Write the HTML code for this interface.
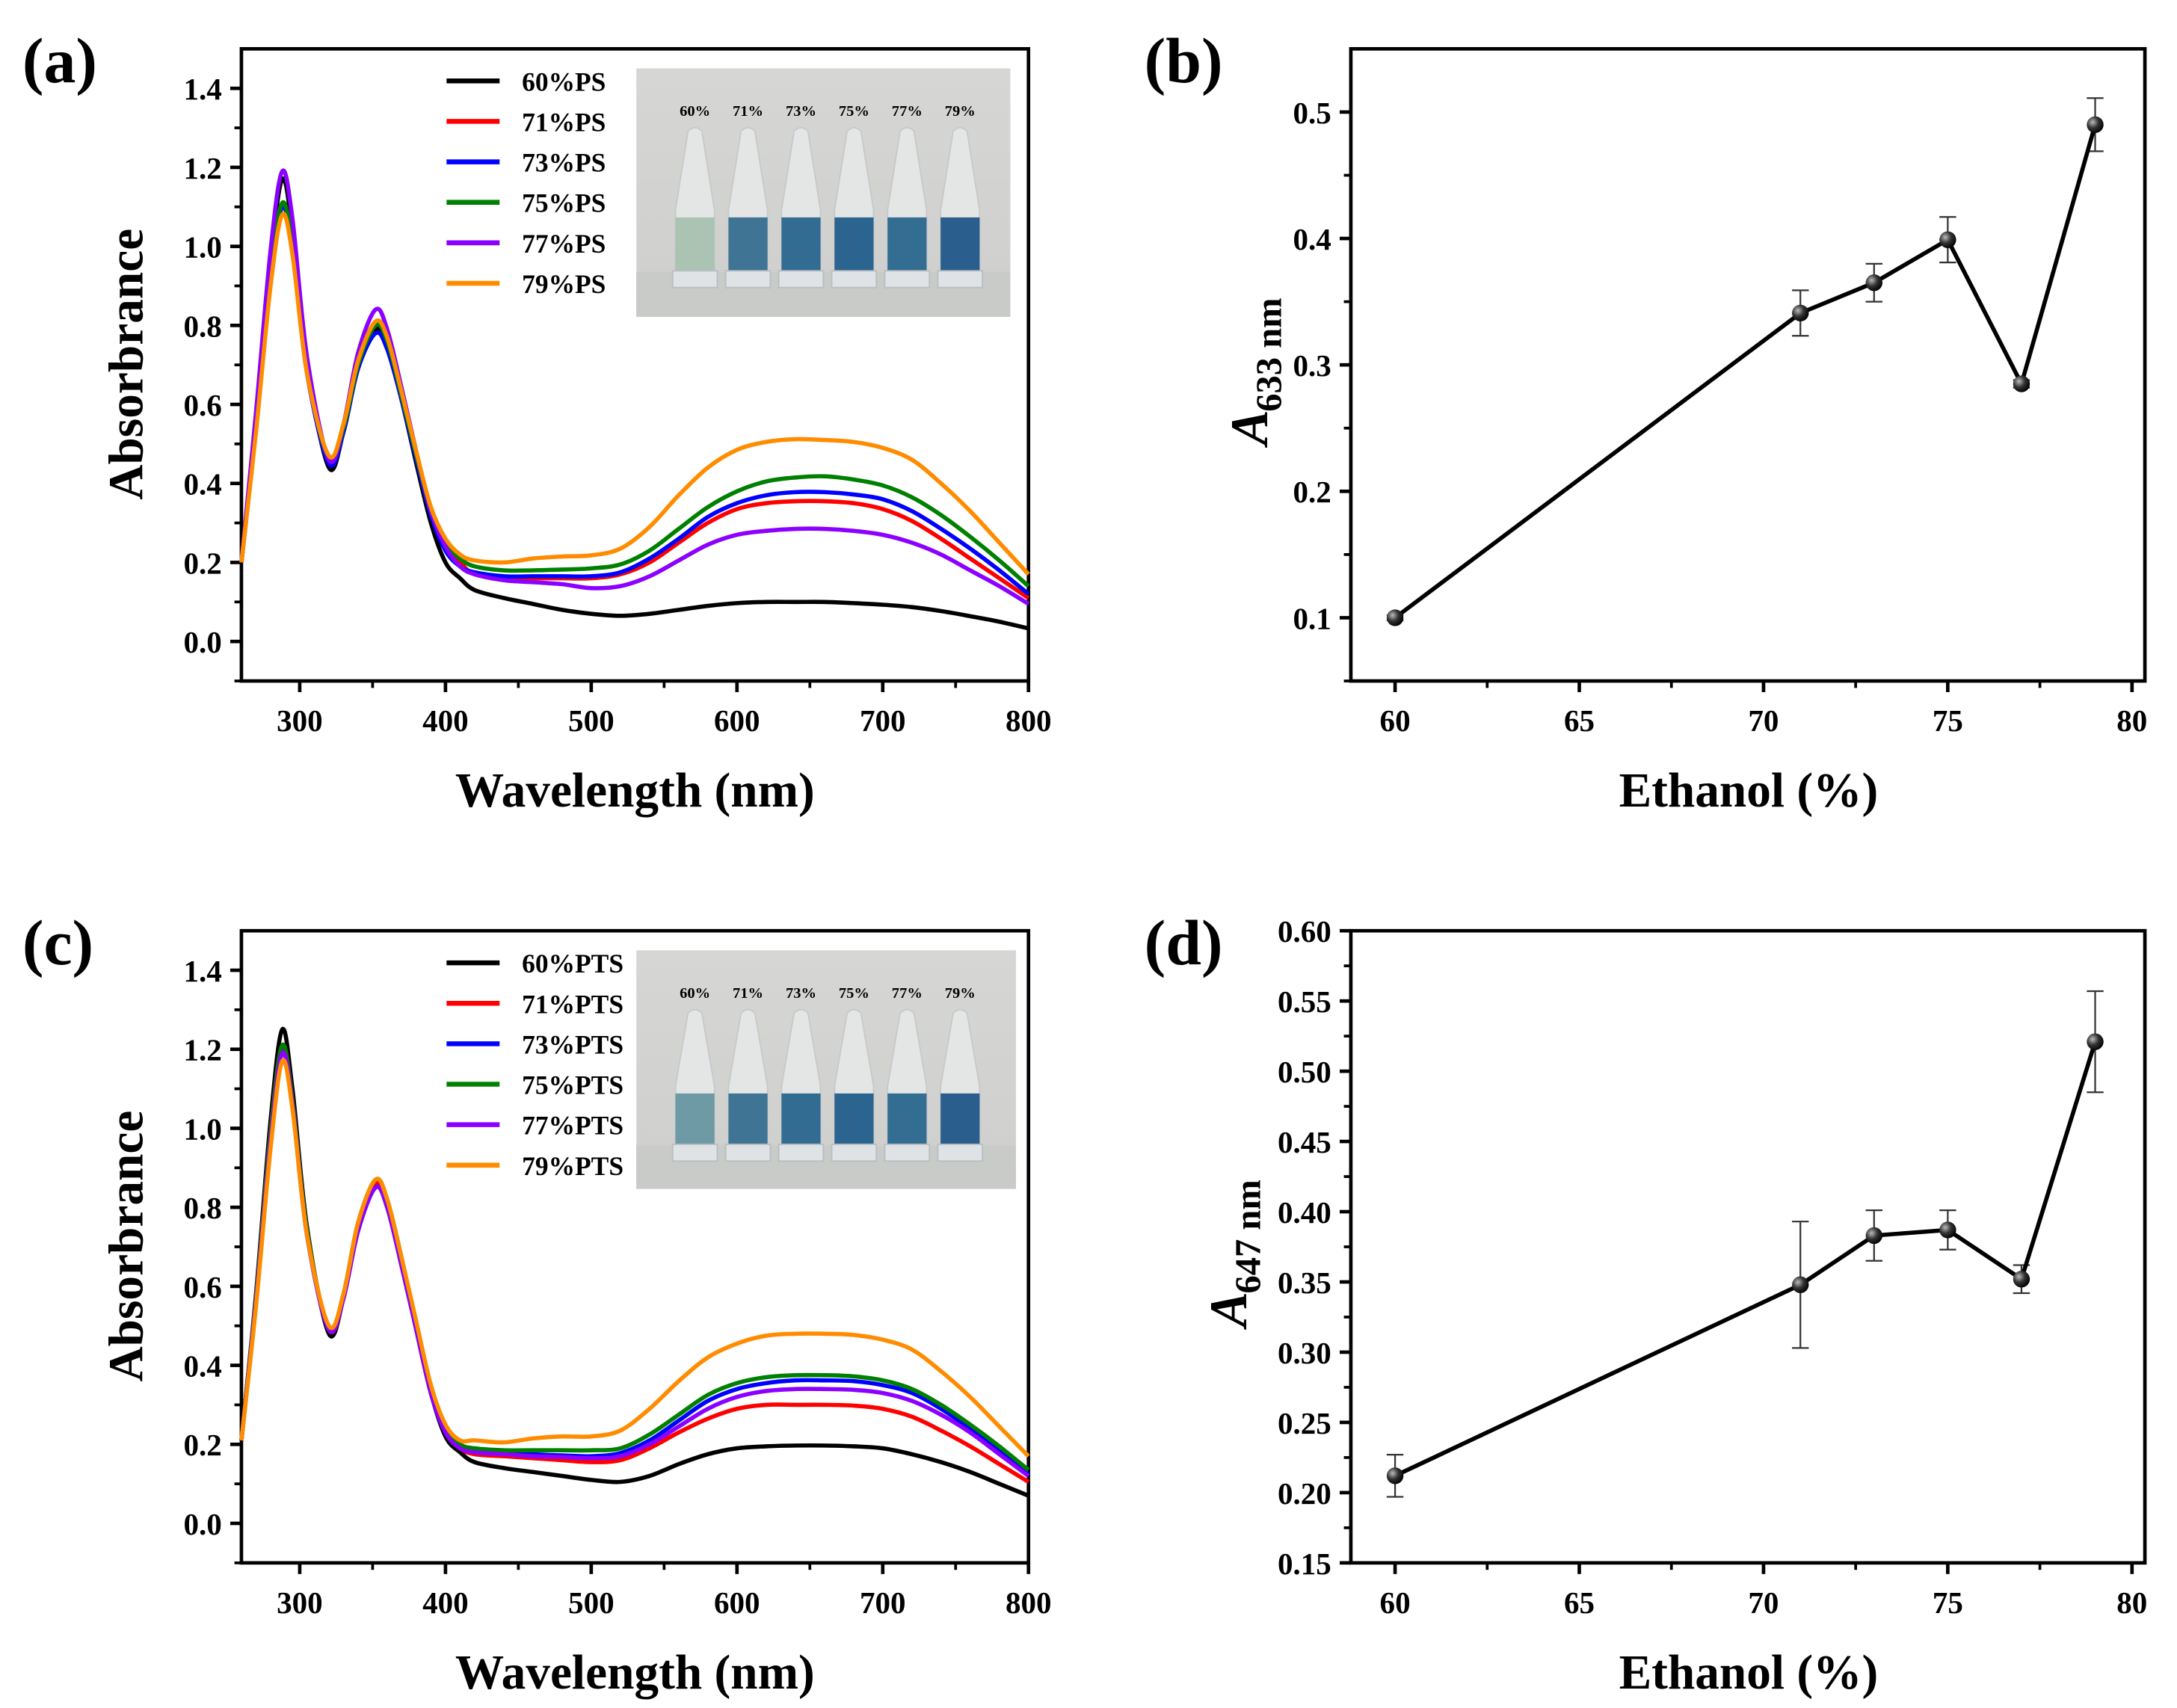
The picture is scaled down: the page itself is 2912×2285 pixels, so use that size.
<!DOCTYPE html>
<html><head><meta charset="utf-8">
<style>
html,body{margin:0;padding:0;background:#fff;}
svg{display:block;}
text{font-family:"Liberation Serif",serif;font-weight:bold;fill:#000;}
</style></head>
<body>
<svg id="fig" width="2912" height="2285" viewBox="0 0 1560 1224" preserveAspectRatio="none" xmlns="http://www.w3.org/2000/svg">
<defs>
<radialGradient id="ball" cx="0.35" cy="0.35" r="0.7"><stop offset="0" stop-color="#bbb"/><stop offset="0.5" stop-color="#333"/><stop offset="1" stop-color="#000"/></radialGradient>
<linearGradient id="bg" x1="0" y1="0" x2="0" y2="1"><stop offset="0" stop-color="#d6d6d4"/><stop offset="0.8" stop-color="#d0d1cf"/><stop offset="1" stop-color="#c4c6c2"/></linearGradient>
</defs>
</svg>
<script>
// ---- data ----
const wavelengths = [260,270,280,288,295,305,320,330,340,352,360,370,380,390,400,410,420,440,460,480,500,520,540,560,580,600,620,640,660,680,700,720,740,760,780,800];
const seriesNamesA = ["60%PS","71%PS","73%PS","75%PS","77%PS","79%PS"];
const seriesNamesC = ["60%PTS","71%PTS","73%PTS","75%PTS","77%PTS","79%PTS"];
const seriesColors = ["#000000","#ff0000","#0000ff","#008000","#8b00ff","#ff8c00"];
const a60 = [0.20,0.56,0.96,1.17,1.04,0.70,0.44,0.53,0.70,0.79,0.75,0.61,0.45,0.30,0.20,0.16,0.13,0.11,0.095,0.08,0.07,0.065,0.07,0.08,0.09,0.097,0.10,0.10,0.10,0.097,0.093,0.087,0.077,0.064,0.05,0.033];
const a71 = [0.20,0.54,0.92,1.10,0.99,0.68,0.46,0.54,0.70,0.80,0.76,0.62,0.47,0.33,0.24,0.20,0.17,0.16,0.16,0.16,0.16,0.17,0.20,0.25,0.30,0.335,0.35,0.355,0.355,0.35,0.335,0.305,0.26,0.21,0.16,0.11];
const a73 = [0.20,0.54,0.92,1.10,0.99,0.68,0.45,0.53,0.69,0.78,0.74,0.61,0.46,0.32,0.23,0.19,0.175,0.165,0.165,0.165,0.165,0.175,0.21,0.26,0.315,0.35,0.37,0.378,0.378,0.372,0.36,0.33,0.285,0.235,0.18,0.12];
const a75 = [0.20,0.55,0.93,1.11,1.00,0.69,0.46,0.54,0.70,0.80,0.76,0.62,0.47,0.33,0.25,0.21,0.19,0.18,0.18,0.182,0.185,0.195,0.23,0.285,0.34,0.38,0.405,0.415,0.418,0.41,0.395,0.365,0.32,0.265,0.205,0.14];
const a77 = [0.20,0.58,0.99,1.19,1.07,0.72,0.46,0.55,0.73,0.84,0.79,0.64,0.48,0.33,0.24,0.19,0.17,0.155,0.15,0.145,0.135,0.14,0.165,0.205,0.245,0.27,0.28,0.285,0.285,0.28,0.27,0.25,0.22,0.18,0.14,0.095];
const a79 = [0.20,0.53,0.90,1.08,0.98,0.68,0.47,0.55,0.71,0.81,0.77,0.63,0.48,0.34,0.26,0.22,0.205,0.20,0.21,0.215,0.218,0.235,0.29,0.37,0.44,0.485,0.505,0.512,0.51,0.505,0.49,0.46,0.40,0.33,0.25,0.17];
const c60 = [0.21,0.58,1.02,1.25,1.10,0.75,0.48,0.57,0.75,0.86,0.81,0.66,0.49,0.33,0.22,0.18,0.155,0.14,0.13,0.12,0.11,0.105,0.12,0.15,0.175,0.19,0.195,0.197,0.197,0.195,0.19,0.175,0.155,0.13,0.10,0.07];
const c71 = [0.21,0.57,0.99,1.21,1.07,0.74,0.49,0.57,0.75,0.86,0.81,0.66,0.49,0.33,0.23,0.19,0.175,0.17,0.165,0.16,0.155,0.16,0.19,0.23,0.265,0.29,0.30,0.30,0.30,0.298,0.29,0.27,0.235,0.195,0.15,0.105];
const c73 = [0.21,0.57,0.98,1.20,1.06,0.73,0.49,0.57,0.74,0.85,0.80,0.65,0.49,0.33,0.23,0.20,0.185,0.18,0.175,0.172,0.17,0.178,0.21,0.26,0.31,0.34,0.355,0.362,0.362,0.36,0.35,0.33,0.29,0.24,0.185,0.125];
const c75 = [0.21,0.57,0.99,1.21,1.07,0.74,0.49,0.58,0.76,0.87,0.82,0.67,0.50,0.34,0.24,0.20,0.19,0.185,0.185,0.185,0.185,0.19,0.225,0.275,0.325,0.355,0.37,0.375,0.375,0.372,0.362,0.34,0.30,0.25,0.195,0.135];
const c77 = [0.21,0.56,0.97,1.19,1.06,0.73,0.49,0.57,0.74,0.85,0.80,0.65,0.49,0.33,0.23,0.19,0.18,0.175,0.17,0.168,0.165,0.17,0.20,0.245,0.29,0.32,0.335,0.34,0.34,0.338,0.33,0.31,0.275,0.23,0.175,0.12];
const c79 = [0.21,0.55,0.95,1.17,1.05,0.73,0.50,0.58,0.76,0.87,0.82,0.67,0.51,0.35,0.25,0.21,0.21,0.205,0.215,0.22,0.22,0.235,0.29,0.36,0.42,0.455,0.475,0.48,0.48,0.477,0.465,0.44,0.385,0.32,0.245,0.17];
const ethanol = [60,71,73,75,77,79];
const bValues = [0.100,0.341,0.365,0.399,0.285,0.490];
const bErrors = [0.002,0.018,0.015,0.018,0.003,0.021];
const dValues = [0.212,0.348,0.383,0.387,0.352,0.521];
const dErrors = [0.015,0.045,0.018,0.014,0.010,0.036];
const specXTicks = [300,400,500,600,700,800];
const specYTicks = ["0.0","0.2","0.4","0.6","0.8","1.0","1.2","1.4"];
const ethXTicks = [60,65,70,75,80];
const bYTicks = ["0.1","0.2","0.3","0.4","0.5"];
const dYTicks = ["0.15","0.20","0.25","0.30","0.35","0.40","0.45","0.50","0.55","0.60"];
const vialLabels = ["60%","71%","73%","75%","77%","79%"];

const NS="http://www.w3.org/2000/svg";
const svg=document.getElementById('fig');
function el(tag,attrs,parent){const e=document.createElementNS(NS,tag);for(const k in attrs)e.setAttribute(k,attrs[k]);(parent||svg).appendChild(e);return e;}
function txt(s,attrs,parent){const e=el('text',attrs,parent);e.textContent=s;return e;}
function smooth(pts){let d=`M${pts[0][0]},${pts[0][1]}`;for(let i=0;i<pts.length-1;i++){const p0=pts[i-1]||pts[i],p1=pts[i],p2=pts[i+1],p3=pts[i+2]||p2;const c1x=p1[0]+(p2[0]-p0[0])/6,c1y=p1[1]+(p2[1]-p0[1])/6,c2x=p2[0]-(p3[0]-p1[0])/6,c2y=p2[1]-(p3[1]-p1[1])/6;d+=` C${c1x},${c1y} ${c2x},${c2y} ${p2[0]},${p2[1]}`;}return d;}

function axes(g,box,xr,yr,xt,xtl,yt,ytl,xminor,yminor){
  const sx=v=>box.x0+(v-xr[0])/(xr[1]-xr[0])*(box.x1-box.x0);
  const sy=v=>box.y1-(v-yr[0])/(yr[1]-yr[0])*(box.y1-box.y0);
  const r=el('rect',{x:box.x0,y:box.y0,width:box.x1-box.x0,height:box.y1-box.y0,fill:'none',stroke:'#000','stroke-width':2.5},g);
  
  
  xt.forEach((v,i)=>{el('line',{x1:sx(v),x2:sx(v),y1:box.y1,y2:box.y1+8,stroke:'#000','stroke-width':2.5},g);
    const t=txt(xtl[i],{x:sx(v),y:box.y1+36,'font-size':22,'text-anchor':'middle'},g);
    
    });
  xminor.forEach(v=>el('line',{x1:sx(v),x2:sx(v),y1:box.y1,y2:box.y1+5,stroke:'#000','stroke-width':2},g));
  yt.forEach((v,i)=>{el('line',{x1:box.x0-8,x2:box.x0,y1:sy(v),y2:sy(v),stroke:'#000','stroke-width':2.5},g);
    const t=txt(ytl[i],{x:box.x0-14,y:sy(v)+8,'font-size':22,'text-anchor':'end'},g);
    
    });
  yminor.forEach(v=>el('line',{x1:box.x0-5,x2:box.x0,y1:sy(v),y2:sy(v),stroke:'#000','stroke-width':2},g));
  return {sx,sy};
}

function spectrum(top,label,names,data,inset){
  const g=el('g',{});
  
  
  const box={x0:173,x1:737,y0:top,y1:top+453};
  const ytv=specYTicks.map(Number);
  const {sx,sy}=axes(g,box,[260,800],[-0.1,1.5],specXTicks,specXTicks.map(String),ytv,specYTicks,[350,450,550,650,750],[-0.1,0.1,0.3,0.5,0.7,0.9,1.1,1.3]);
  const ig=el('g',{},g);
  
  
  el('rect',{x:inset.x,y:inset.y,width:inset.w,height:inset.h,fill:'url(#bg)'},ig);
  el('rect',{x:inset.x,y:inset.y+inset.h*0.82,width:inset.w,height:inset.h*0.18,fill:'#c9cbc8'},ig);
  const liquid=["#aac3b3","#3f7495","#336c92","#2c6490","#336d92","#2a5f8d"];
  if(label==='c'){liquid[0]="#6d9aa4";}
  vialLabels.forEach((s,i)=>{
    const cx=inset.x+42+i*38;
    const t=txt(s,{x:cx,y:inset.y+34,'font-size':11,'text-anchor':'middle','font-weight':'normal'},ig);
    
    
    const yt=inset.y+45, yl=inset.y+inset.h*0.6, yb=inset.y+inset.h*0.86;
    el('path',{d:`M${cx-5},${yt} Q${cx},${yt-5} ${cx+5},${yt} L${cx+14},${yl-5} L${cx+14},${yb} L${cx-14},${yb} L${cx-14},${yl-5} Z`,fill:'#e4e6e6',stroke:'#c6c9ca','stroke-width':1},ig);
    el('rect',{x:cx-14,y:yl,width:28,height:(yb-yl)-8,fill:liquid[i]},ig);
    el('rect',{x:cx-16,y:yb-8,width:32,height:12,fill:'#dfe3e6',stroke:'#b9bec2','stroke-width':1},ig);
  });
  data.forEach((arr,k)=>{
    const p=el('path',{d:smooth(wavelengths.map((w,i)=>[sx(w),sy(arr[i])])),fill:'none',stroke:seriesColors[k],'stroke-width':3},g);
    
    
  });
  names.forEach((n,k)=>{
    const y=top+23+k*29;
    const l=el('line',{x1:320,x2:358,y1:y,y2:y,stroke:seriesColors[k],'stroke-width':3.5},g);
    
    
    const t=txt(n,{x:374,y:y+7,'font-size':19},g);
    
    
  });
  const yt=txt('Absorbrance',{transform:`translate(102,${top+226}) rotate(-90)`,'font-size':35,'text-anchor':'middle'},g);
  
  
  const xt=txt('Wavelength (nm)',{x:455,y:top+543,'font-size':35,'text-anchor':'middle'},g);
  
  
  const pl=txt('('+label+')',{x:16,y:top+24,'font-size':46},g);
  
  
}

function ethPanel(top,label,yr,ytl,yminor,vals,errs,wl,titleX){
  const g=el('g',{});
  
  
  const box={x0:968,x1:1537,y0:top,y1:top+453};
  const {sx,sy}=axes(g,box,[58.8,80.35],yr,ethXTicks,ethXTicks.map(String),ytl.map(Number),ytl,[62.5,67.5,72.5,77.5],yminor);
  ethanol.forEach((x,i)=>{
    const e1=el('line',{x1:sx(x),x2:sx(x),y1:sy(vals[i]-errs[i]),y2:sy(vals[i]+errs[i]),stroke:'#333','stroke-width':1.2},g);
    
    
    [vals[i]-errs[i],vals[i]+errs[i]].forEach(v=>el('line',{x1:sx(x)-6,x2:sx(x)+6,y1:sy(v),y2:sy(v),stroke:'#333','stroke-width':1.2},g));
  });
  const ln=el('polyline',{points:ethanol.map((x,i)=>sx(x)+','+sy(vals[i])).join(' '),fill:'none',stroke:'#000','stroke-width':3},g);
  
  
  ethanol.forEach((x,i)=>{
    const c=el('circle',{cx:sx(x),cy:sy(vals[i]),r:6,fill:'url(#ball)'},g);
    
    
  });
  const yt=el('g',{transform:`translate(${titleX},${top+226}) rotate(-90)`},g);
  
  
  el('text',{x:-58,y:0,'font-size':38,'font-style':'italic','font-weight':'normal'},yt).textContent='A';
  el('text',{x:-34,y:10,'font-size':26},yt).textContent=wl+' nm';
  const xt=txt('Ethanol (%)',{x:1253,y:top+543,'font-size':35,'text-anchor':'middle'},g);
  
  
  const pl=txt('('+label+')',{x:820,y:top+24,'font-size':46},g);
  
  
}

spectrum(35,'a',seriesNamesA,[a60,a71,a73,a75,a77,a79],{x:456,y:49,w:268,h:178});
spectrum(667,'c',seriesNamesC,[c60,c71,c73,c75,c77,c79],{x:456,y:681,w:272,h:171});
ethPanel(35,'b',[0.05,0.55],bYTicks,[0.05,0.15,0.25,0.35,0.45],bValues,bErrors,'633',908);
ethPanel(667,'d',[0.15,0.60],dYTicks,[0.175,0.225,0.275,0.325,0.375,0.425,0.475,0.525,0.575],dValues,dErrors,'647',893);
</script>
</body></html>
